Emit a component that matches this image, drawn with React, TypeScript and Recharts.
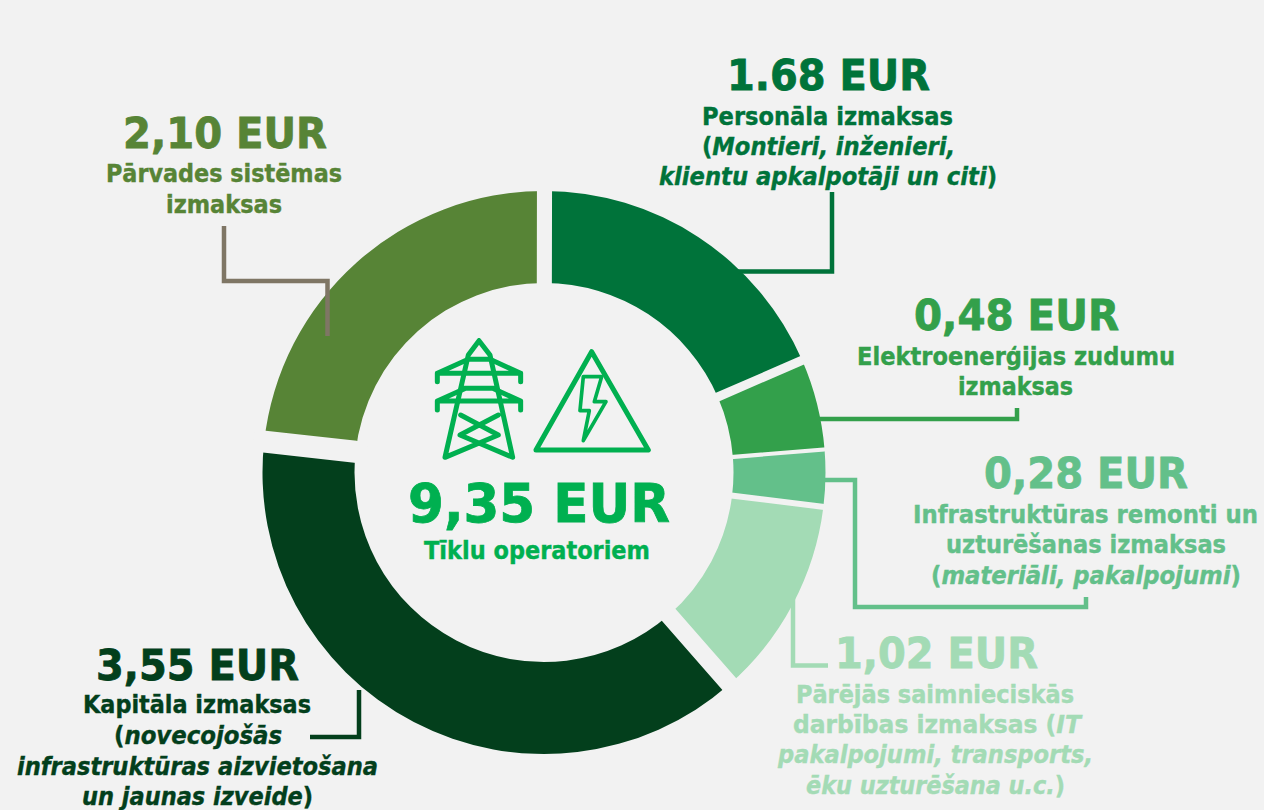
import React from 'react';
import { PieChart, Pie, Cell } from 'recharts';

const BG = '#f2f2f2';
const CENTER_GREEN = '#00b050';

const sliceNames = ['Personāla', 'Zudumi', 'Remonti', 'Pārējās', 'Kapitāla', 'Pārvades'];
// sweep of each ring segment in degrees (clockwise from 12 o'clock)
const sliceSweeps = [66.4, 18.8, 11.7, 41.8, 137.5, 83.8];
const sliceColors = ['#00733a', '#33a04b', '#63c08a', '#a3dbb5', '#033f1c', '#578436'];
// white-space between a segment and the next one, in px
const gapWidths = [9, 4, 6, 18, 22, 15];
const leaderColors = ['#00733a', '#33a04b', '#63c08a', '#a3dbb5', '#033f1c', '#7f7665'];

const HAIR = 0.02;
const START = 89.9;
const sliceData = sliceNames.map((name, i) => ({ name, value: sliceSweeps[i] }));
const gapData = sliceSweeps.flatMap((s, i) => [
  { name: `s${i}`, value: s - HAIR },
  { name: `g${i}`, value: HAIR },
]);

type Line = { parts: [string, boolean?][]; x: number; y: number; w: number; size?: number };

const labelPersonala: Line[] = [
  { parts: [['1.68 EUR']], x: 828.5, y: 90, w: 203, size: 42 },
  { parts: [['Personāla izmaksas']], x: 827.5, y: 125, w: 251 },
  { parts: [['(', false], ['Montieri, inženieri,', true]], x: 828.5, y: 155, w: 253 },
  { parts: [['klientu apkalpotāji un citi', true], [')', false]], x: 828, y: 185, w: 338 },
];
const labelZudumi: Line[] = [
  { parts: [['0,48 EUR']], x: 1016.5, y: 330, w: 205, size: 42 },
  { parts: [['Elektroenerģijas zudumu']], x: 1016, y: 365, w: 318 },
  { parts: [['izmaksas']], x: 1015.5, y: 395, w: 115 },
];
const labelRemonti: Line[] = [
  { parts: [['0,28 EUR']], x: 1086, y: 488, w: 204, size: 42 },
  { parts: [['Infrastruktūras remonti un']], x: 1085.5, y: 523, w: 345 },
  { parts: [['uzturēšanas izmaksas']], x: 1086, y: 553, w: 280 },
  { parts: [['(', false], ['materiāli, pakalpojumi', true], [')', false]], x: 1086, y: 584, w: 310 },
];
const labelParejas: Line[] = [
  { parts: [['1,02 EUR']], x: 936.5, y: 668, w: 203, size: 42 },
  { parts: [['Pārējās saimnieciskās']], x: 935, y: 703, w: 278 },
  { parts: [['darbības izmaksas (', false], ['IT', true]], x: 937, y: 733, w: 288 },
  { parts: [['pakalpojumi, transports,', true]], x: 935.5, y: 763, w: 315 },
  { parts: [['ēku uzturēšana u.c.', true], [')', false]], x: 935.5, y: 794, w: 259 },
];
const labelKapitala: Line[] = [
  { parts: [['3,55 EUR']], x: 197.5, y: 680, w: 203, size: 42 },
  { parts: [['Kapitāla izmaksas']], x: 197, y: 713, w: 228 },
  { parts: [['(', false], ['novecojošās', true]], x: 198, y: 744, w: 168 },
  { parts: [['infrastruktūras aizvietošana', true]], x: 197.5, y: 775, w: 361 },
  { parts: [['un jaunas izveide', true], [')', false]], x: 197.5, y: 805, w: 231 },
];
const labelParvades: Line[] = [
  { parts: [['2,10 EUR']], x: 225, y: 148, w: 204, size: 42 },
  { parts: [['Pārvades sistēmas']], x: 224, y: 182, w: 236 },
  { parts: [['izmaksas']], x: 224, y: 213, w: 116 },
];
const labelCenter: Line[] = [
  { parts: [['9,35 EUR']], x: 539, y: 522, w: 262, size: 54 },
  { parts: [['Tīklu operatoriem']], x: 537, y: 559, w: 226 },
];

const labels = [labelPersonala, labelZudumi, labelRemonti, labelParejas, labelKapitala, labelParvades];

const leaders = [
  '738,271.5 832,271.5 832,192',
  '819,419 1017,419 1017,408',
  '824,480 855,480 855,607 1086,607 1086,597',
  '793,597 793,665.5 828,665.5',
  '359,690 359,737 310,737',
  '224,226 224,281 327.5,281 327.5,336',
];

const TextBlock = ({ lines, color }: { lines: Line[]; color: string }) => (
  <g fill={color} stroke={color} fontFamily="'DejaVu Sans', sans-serif" fontWeight="bold">
    {lines.map((l, i) => (
      <text
        key={i}
        x={l.x - l.w / 2}
        y={l.y}
        fontSize={l.size ?? 24}
        strokeWidth={l.size ? 0.8 : 0.4}
        textLength={l.w}
        lengthAdjust="spacingAndGlyphs"
      >
        {l.parts.map(([t, it], j) => (
          <tspan key={j} fontStyle={it ? 'italic' : 'normal'}>{t}</tspan>
        ))}
      </text>
    ))}
  </g>
);

const Icons = () => (
  <g
    transform="translate(400 320) scale(0.3333)"
    fill="none"
    stroke={CENTER_GREEN}
    strokeWidth={15}
    strokeLinejoin="round"
    strokeLinecap="round"
  >
    {/* pylon */}
    <path d="M237 62 L270 105 L338 412 L180 345 L295 285 M237 62 L205 105 L135 412 L295 345 L182 285" />
    <path d="M205 118 H270 M112 160 H362 M112 185 V160 L205 118 M362 185 V160 L270 118" />
    <path d="M192 205 H283 M112 243 H362 M112 270 V243 L197 205 M362 270 V243 L278 205" />
    {/* warning triangle */}
    <path d="M575 95 L745 390 H408 Z" />
    <path d="M550 170 H605 L583 245 H618 L550 362 L568 272 H540 Z" strokeWidth={11} strokeLinecap="butt" />
  </g>
);

export default function App() {
  return (
    <div style={{ position: 'absolute', left: 0, top: 0, width: 1264, height: 810, background: BG, overflow: 'hidden' }}>
      <PieChart width={1264} height={810} margin={{ top: 0, right: 0, bottom: 0, left: 0 }}>
        <Pie
          data={sliceData}
          dataKey="value"
          cx={544}
          cy={472.5}
          innerRadius={189.5}
          outerRadius={281.5}
          startAngle={START}
          endAngle={START - 360}
          stroke="none"
          isAnimationActive={false}
        >
          {sliceData.map((d, i) => <Cell key={d.name} fill={sliceColors[i]} stroke="none" />)}
        </Pie>
        {/* second ring only cuts the constant-width gaps between the segments */}
        <Pie
          data={gapData}
          dataKey="value"
          cx={544}
          cy={472.5}
          innerRadius={189.5}
          outerRadius={281.5}
          startAngle={START - HAIR / 2}
          endAngle={START - 360 - HAIR / 2}
          isAnimationActive={false}
        >
          {gapData.map((d, i) =>
            i % 2 === 0
              ? <Cell key={d.name} fill="none" stroke="none" />
              : <Cell key={d.name} fill={BG} stroke={BG} strokeWidth={gapWidths[(i - 1) / 2]} />
          )}
        </Pie>
      </PieChart>
      <svg width={1264} height={810} style={{ position: 'absolute', left: 0, top: 0 }}>
        {leaders.map((pts, i) => (
          <polyline key={i} points={pts} fill="none" stroke={leaderColors[i]} strokeWidth={4.5} />
        ))}
        {labels.map((lines, i) => <TextBlock key={i} lines={lines} color={sliceColors[i]} />)}
        <Icons />
        <TextBlock lines={labelCenter} color={CENTER_GREEN} />
      </svg>
    </div>
  );
}
